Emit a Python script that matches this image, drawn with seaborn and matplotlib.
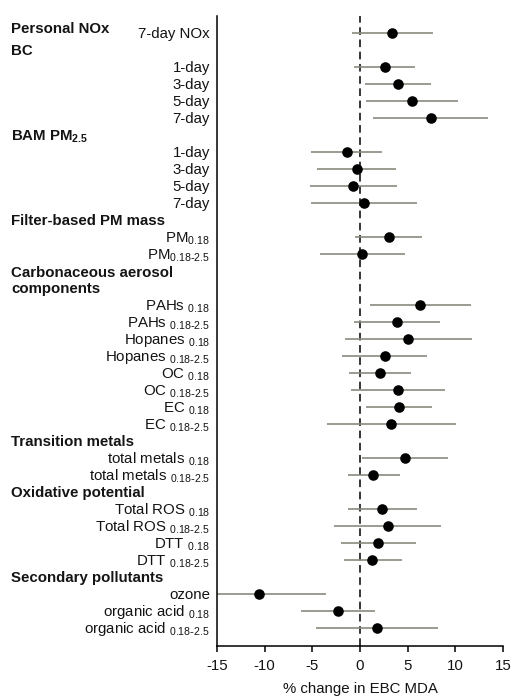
import numpy as np
import pandas as pd
import matplotlib
matplotlib.use('agg')
import matplotlib.pyplot as plt
import matplotlib.transforms as mtransforms
import seaborn as sns

# group headers and how many rows each header takes (0 = shares row with first item)
groups = ["Personal NOx", "BC", "BAM PM$\\mathregular{_{2.5}}$", "Filter-based PM mass",
          "Carbonaceous aerosol\ncomponents", "Transition metals",
          "Oxidative potential", "Secondary pollutants"]
group_rows = [0, 1, 1, 1, 2, 1, 1, 1]

sub18 = " $\\mathregular{_{0.18}}$"
sub25 = " $\\mathregular{_{0.18\\text{-}2.5}}$"

labels = ["7-day NOx",
          "1-day", "3-day", "5-day", "7-day",
          "1-day", "3-day", "5-day", "7-day",
          "PM$\\mathregular{_{0.18}}$", "PM$\\mathregular{_{0.18\\text{-}2.5}}$",
          "PAHs" + sub18, "PAHs" + sub25, "Hopanes" + sub18, "Hopanes" + sub25,
          "OC" + sub18, "OC" + sub25, "EC" + sub18, "EC" + sub25,
          "total metals" + sub18, "total metals" + sub25,
          "Total ROS" + sub18, "Total ROS" + sub25, "DTT" + sub18, "DTT" + sub25,
          "ozone", "organic acid" + sub18, "organic acid" + sub25]
group_of = [0, 1, 1, 1, 1, 2, 2, 2, 2, 3, 3,
            4, 4, 4, 4, 4, 4, 4, 4, 5, 5, 6, 6, 6, 6, 7, 7, 7]
estimate = [3.4, 2.6, 4.0, 5.5, 7.4, -1.4, -0.3, -0.7, 0.4, 3.0, 0.2,
            6.3, 3.9, 5.0, 2.6, 2.1, 4.0, 4.1, 3.3, 4.7, 1.4,
            2.3, 2.9, 1.9, 1.3, -10.6, -2.3, 1.8]
lower = [-0.8, -0.6, 0.5, 0.6, 1.4, -5.1, -4.5, -5.2, -5.1, -0.5, -4.2,
         1.0, -0.6, -1.6, -1.9, -1.2, -0.9, 0.6, -3.5, 0.2, -1.3,
         -1.3, -2.7, -2.0, -1.7, -15.1, -6.2, -4.6]
upper = [7.7, 5.8, 7.4, 10.3, 13.4, 2.3, 3.8, 3.9, 6.0, 6.5, 4.7,
         11.6, 8.4, 11.7, 7.0, 5.3, 8.9, 7.6, 10.1, 9.2, 4.2,
         6.0, 8.5, 5.9, 4.4, -3.6, 1.6, 8.2]

# row layout (header text is baseline aligned on its last line)
rows, header_pos = [], []
r = -1
for i, g in enumerate(group_of):
    if i == 0 or g != group_of[i - 1]:
        if group_rows[g] == 0:
            header_pos.append(r + 1 - 0.3)
        else:
            header_pos.append(r + group_rows[g])
        r += group_rows[g]
    r += 1
    rows.append(r)

df = pd.DataFrame({"row": rows, "est": estimate, "lo": lower, "hi": upper})

sns.set_theme(style="white")
plt.rcParams["font.family"] = ["Liberation Sans", "DejaVu Sans"]
plt.rcParams["mathtext.default"] = "regular"
txt = "#141414"
fs = 10.8

fig = plt.figure(figsize=(5.13, 6.96), dpi=100)
ax = fig.add_axes([217 / 513, 50 / 696, 286 / 513, 630 / 696])

ax.hlines(df["row"], df["lo"], df["hi"], color="#8a8a7e", lw=1.2, zorder=2)
ax.axvline(0, color="black", lw=1.1, ls=(0, (5, 3)), zorder=1)
sns.scatterplot(data=df, x="est", y="row", ax=ax, color="black", s=58,
                edgecolor="black", linewidth=0, zorder=3, legend=False)

ax.set_xlim(-15, 15)
ax.set_ylim(max(rows) + 1.06, -1)
ax.set_xticks(np.arange(-15, 16, 5))
ax.set_xticklabels([str(v) for v in range(-15, 16, 5)], fontsize=fs, color=txt)
ax.set_yticks([])
ax.tick_params(axis="x", direction="out", length=4, width=1.1, color="black",
               pad=5, bottom=True)
ax.set_xlabel("% change in EBC MDA", fontsize=fs, color=txt, labelpad=7)
ax.set_ylabel("")

for s in ["top", "right"]:
    ax.spines[s].set_visible(False)
for s in ["left", "bottom"]:
    ax.spines[s].set_color("black")
    ax.spines[s].set_linewidth(1.1)

# row labels, baseline aligned so subscripts hang below
down = mtransforms.ScaledTranslation(0, -5.4 / 100, fig.dpi_scale_trans)
lab_trans = mtransforms.blended_transform_factory(fig.transFigure, ax.transData) + down
for lab, y in zip(labels, rows):
    ax.text(210 / 513, y, lab, transform=lab_trans, ha="right", va="baseline",
            fontsize=fs, color=txt)

for g, y in zip(groups, header_pos):
    ax.text(11 / 513, y, g, transform=lab_trans, ha="left", va="baseline",
            fontsize=fs, fontweight="bold", color=txt, linespacing=1.18)

fig.savefig("out.png", dpi=100, facecolor="white")
